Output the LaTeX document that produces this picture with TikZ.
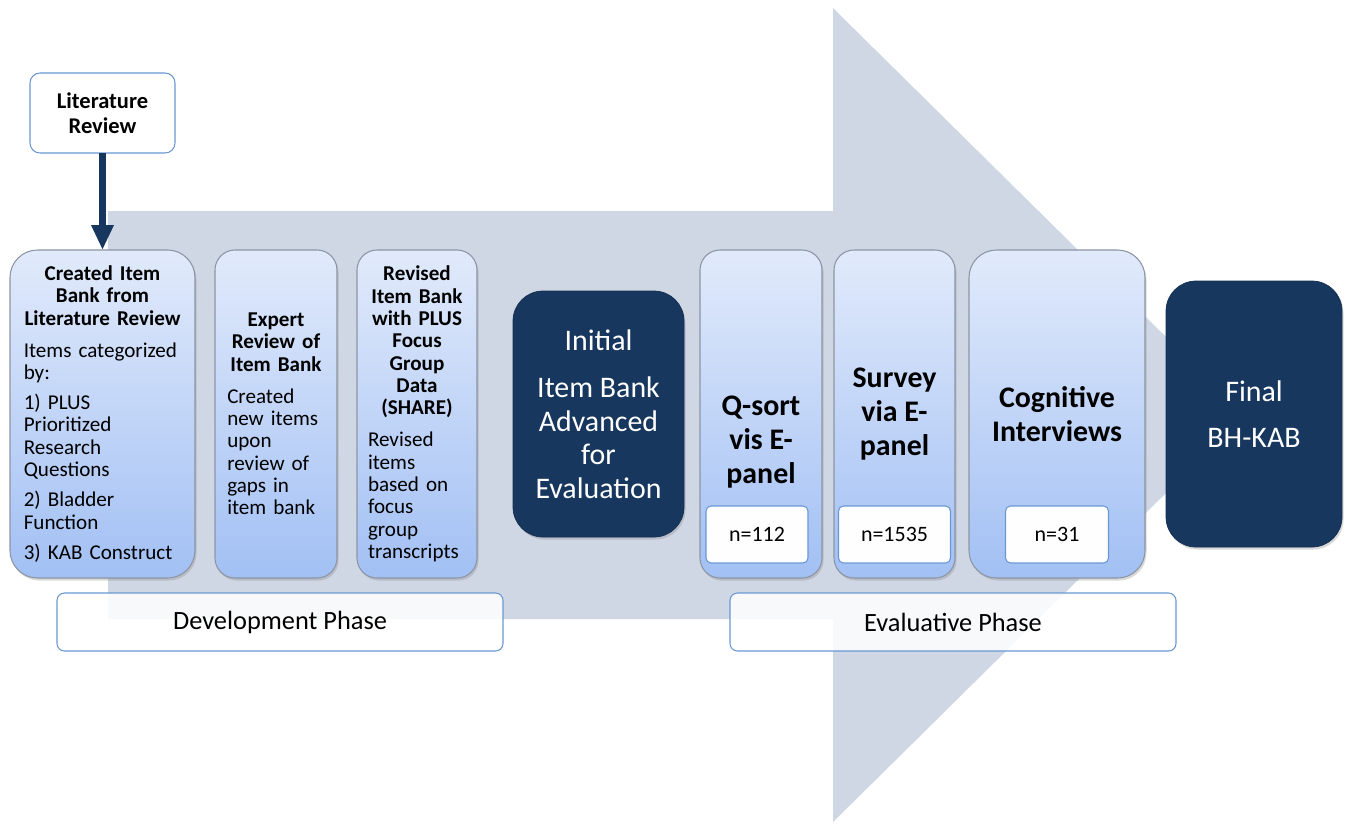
\documentclass[tikz,border=0pt]{standalone}
\usepackage{fontspec}
\setmainfont{Carlito}
\setlength{\parindent}{0pt}
\usetikzlibrary{positioning, shadows, arrows.meta}
\definecolor{arrowgrey}{HTML}{CFD7E5}
\definecolor{stagetop}{HTML}{E1EAFB}
\definecolor{stagebot}{HTML}{A2C0F4}
\definecolor{stageline}{HTML}{8C95A3}
\definecolor{navy}{HTML}{17375E}
\definecolor{boxblue}{HTML}{6A97D4}
\tikzstyle{stage} = [rectangle, rounded corners=0.4cm, minimum height=6.56cm, inner sep=0pt, outer sep=0pt, draw=stageline, line width=0.6pt, top color=stagetop, bottom color=stagebot, drop shadow={shadow xshift=0.03cm, shadow yshift=-0.05cm, opacity=0.3}, align=left, font=\fontsize{12}{12.7}\selectfont]
\tikzstyle{stagetitle} = [align=center, font=\fontsize{17}{19.3}\selectfont\bfseries]
\tikzstyle{navybox} = [rectangle, rounded corners=0.6cm, outer sep=0pt, fill=navy, draw=navy!85!black, text=white, align=center, drop shadow={shadow xshift=0.03cm, shadow yshift=-0.05cm, opacity=0.3}, font=\fontsize{17}{19}\selectfont]
\tikzstyle{countbox} = [rectangle, rounded corners=0.1cm, minimum height=1.14cm, outer sep=0pt, fill=white!96!stagetop, draw=boxblue, line width=0.6pt, font=\fontsize{12.5}{14}\selectfont]
\tikzstyle{phase} = [rectangle, rounded corners=0.15cm, minimum width=8.92cm, minimum height=1.16cm, draw=boxblue, line width=0.6pt, fill=white, fill opacity=0.85, text opacity=1, font=\fontsize{15}{18}\selectfont]
\tikzstyle{litbox} = [rectangle, rounded corners=0.2cm, minimum width=2.9cm, minimum height=1.6cm, outer sep=0pt, draw=boxblue, line width=0.6pt, fill=white, align=center, font=\fontsize{12.8}{14}\selectfont\bfseries]
\tikzstyle{downarrow} = [line width=4.5pt, navy, -{Triangle[width=0.42cm, length=0.5cm]}]

\begin{document}
\begin{tikzpicture}
\useasboundingbox (0,0) rectangle (27,-16.5);
\fill [arrowgrey] (2.16,-4.22) -- (16.66,-4.22) -- (16.66,-0.16) -- (24.9,-8.3) -- (16.66,-16.44) -- (16.66,-12.38) -- (2.16,-12.38) -- cycle;

\node (lit) [litbox] at (2.05,-2.26) {Literature\\Review};
\node (created) [stage, rounded corners=0.55cm, minimum width=3.7cm, text width=3.15cm] at (2.05,-8.28) {{\centering\bfseries Created Item\\Bank from\\Literature Review\par}\vspace{5.5pt}Items categorized\\by:\par\vspace{4.5pt}1) PLUS\\Prioritized\\Research\\Questions\par\vspace{4.5pt}2) Bladder\\Function\par\vspace{4.5pt}3) KAB Construct};
\node (expert) [stage, right=0.4cm of created, minimum width=2.44cm, text width=1.95cm] {{\centering\bfseries Expert\\Review of\\Item Bank\par}\vspace{5.5pt}Created\\new items\\upon\\review of\\gaps in\\item bank};
\node (revised) [stage, right=0.4cm of expert, minimum width=2.4cm, text width=1.96cm] {{\centering\bfseries Revised\\Item Bank\\with PLUS\\Focus\\Group\\Data\\(SHARE)\par}\vspace{5.5pt}Revised\\items\\based on\\focus\\group\\transcripts};
\node (initial) [navybox, right=0.72cm of revised, minimum width=3.42cm, minimum height=4.92cm] {Initial\\[8pt]Item Bank\\Advanced\\for\\Evaluation};
\node (qsort) [stage, right=0.32cm of initial, minimum width=2.44cm] {};
\node (survey) [stage, right=0.24cm of qsort, minimum width=2.42cm] {};
\node (cog) [stage, rounded corners=0.55cm, right=0.28cm of survey, minimum width=3.52cm] {};
\node (final) [navybox, right=0.42cm of cog, minimum width=3.52cm, minimum height=5.32cm] {Final\\[7.5pt]BH-KAB};

\node (qsorttitle) [stagetitle] at ([yshift=-0.56cm]qsort.center) {Q-sort\\vis E-\\panel};
\node (surveytitle) [stagetitle] at (survey.center) {Survey\\via E-\\panel};
\node (cogtitle) [stagetitle] at (cog.center) {Cognitive\\Interviews};
\node (n112) [countbox, minimum width=2.04cm, above=0.3cm of qsort.south, xshift=-0.08cm] {n=112};
\node (n1535) [countbox, minimum width=2.24cm, above=0.3cm of survey.south] {n=1535};
\node (n31) [countbox, minimum width=2.06cm, above=0.3cm of cog.south] {n=31};

\node (devphase) [phase] at (5.6,-12.44) {Development Phase};
\node (evalphase) [phase] at (19.06,-12.44) {Evaluative Phase};

\draw [downarrow] (lit) -- (created);
\end{tikzpicture}
\end{document}
